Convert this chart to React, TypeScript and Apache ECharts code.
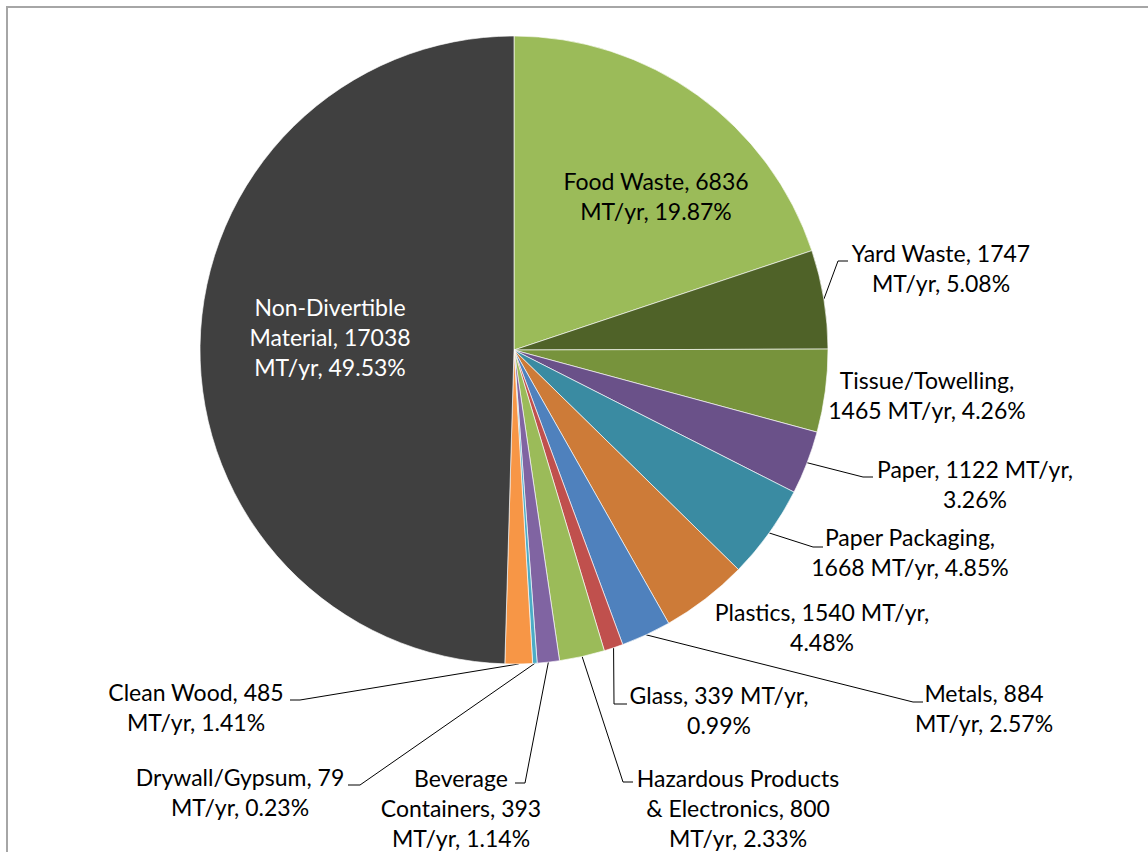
import React, { useEffect, useRef } from "react";
import * as echarts from "echarts";

// ---- data ----
const categories = [
  "Food Waste",
  "Yard Waste",
  "Tissue/Towelling",
  "Paper",
  "Paper Packaging",
  "Plastics",
  "Metals",
  "Glass",
  "Hazardous Products & Electronics",
  "Beverage Containers",
  "Drywall/Gypsum",
  "Clean Wood",
  "Non-Divertible Material",
];
const tonnes = [6836, 1747, 1465, 1122, 1668, 1540, 884, 339, 800, 393, 79, 485, 17038];
const unit = "MT/yr";

// ---- styling / layout (not data) ----
const colors = [
  "#9BBB59", "#4F6228", "#77933C", "#6A5189", "#3A8BA2", "#CD7B38", "#4F81BD",
  "#C0504D", "#9BBB59", "#8064A2", "#4BACC6", "#F79646", "#404040",
];
// words per wrapped line of each label
const lineWords = [
  [3, 2], [3, 2], [1, 3], [3, 1], [2, 3], [3, 1], [2, 2], [3, 1], [2, 3, 2], [1, 2, 2], [2, 2], [3, 2], [1, 2, 2],
];
// label centres
const labelPos: [number, number][] = [
  [656, 196], [941, 268], [927, 395], [975, 484], [910, 552], [822, 627], [984, 708],
  [719, 710], [738, 808], [461, 808], [240, 792], [196, 707], [330, 337],
];
// leader line elbow + end points (null = no leader)
const leaders: ([number, number][] | null)[] = [
  null,
  [[838, 261], [848, 261]],
  null,
  [[863, 477], [873, 477]],
  [[813, 547], [823, 547]],
  null,
  [[913, 702], [923, 702]],
  [[614, 704], [627, 704]],
  [[623, 782], [633, 782]],
  [[525, 783], [515, 783]],
  [[360, 785], [348, 785]],
  [[300, 700], [290, 700]],
  null,
];
const insideIdx = [0, 12];
const CX = 514, CY = 350, R = 314;

const total = tonnes.reduce((a, b) => a + b, 0);

function labelText(i: number): string {
  const pct = ((tonnes[i] / total) * 100).toFixed(2);
  const words = `${categories[i]}, ${tonnes[i]} ${unit}, ${pct}%`.split(" ");
  const lines: string[] = [];
  let k = 0;
  for (const n of lineWords[i]) {
    lines.push(words.slice(k, k + n).join(" "));
    k += n;
  }
  if (k < words.length) lines[lines.length - 1] += " " + words.slice(k).join(" ");
  return lines.join("\n");
}

export default function App() {
  const ref = useRef<HTMLDivElement>(null);
  useEffect(() => {
    document.body.style.margin = "0";
    if (!ref.current) return;
    const chart = echarts.init(ref.current, undefined, { renderer: "svg" });

    const mids: number[] = [];
    let acc = 0;
    tonnes.forEach((v) => {
      mids.push(((acc + v / 2) / total) * Math.PI * 2);
      acc += v;
    });

    const data = categories.map((name, i) => ({
      name,
      value: tonnes[i],
      itemStyle: { color: colors[i] },
      label: {
        show: true,
        position: insideIdx.includes(i) ? "inside" : "outside",
        color: i === 12 ? "#FFFFFF" : "#000000",
      },
      labelLine: { show: !!leaders[i] },
    }));

    chart.setOption({
      animation: false,
      backgroundColor: "#FFFFFF",
      graphic: [
        {
          type: "rect",
          shape: { x: 7, y: 7, width: 1300, height: 1000 },
          style: { fill: "none", stroke: "#A6A6A6", lineWidth: 2 },
          silent: true,
        },
      ],
      series: [
        {
          type: "pie",
          center: [CX, CY],
          radius: R,
          startAngle: 90,
          clockwise: true,
          avoidLabelOverlap: false,
          data,
          itemStyle: { borderColor: "rgba(255,255,255,0.8)", borderWidth: 0.8 },
          label: {
            fontFamily: "Lato, 'Open Sans', sans-serif",
            fontSize: 23,
            lineHeight: 30,
            align: "center",
            formatter: (p: any) => labelText(p.dataIndex),
          },
          labelLine: {
            lineStyle: { color: "#000000", width: 1 },
            length: 10,
            length2: 10,
          },
          labelLayout: (p: any) => {
            const i = p.dataIndex;
            const out: any = {
              x: labelPos[i][0],
              y: labelPos[i][1],
              align: "center",
              verticalAlign: "middle",
            };
            const ld = leaders[i];
            if (ld) {
              const a = mids[i];
              const start: [number, number] = [CX + R * Math.sin(a), CY - R * Math.cos(a)];
              out.labelLinePoints = [start, ld[0], ld[1]];
            }
            return out;
          },
        },
      ],
    });
    return () => chart.dispose();
  }, []);
  return <div ref={ref} style={{ width: 1148, height: 852 }} />;
}
